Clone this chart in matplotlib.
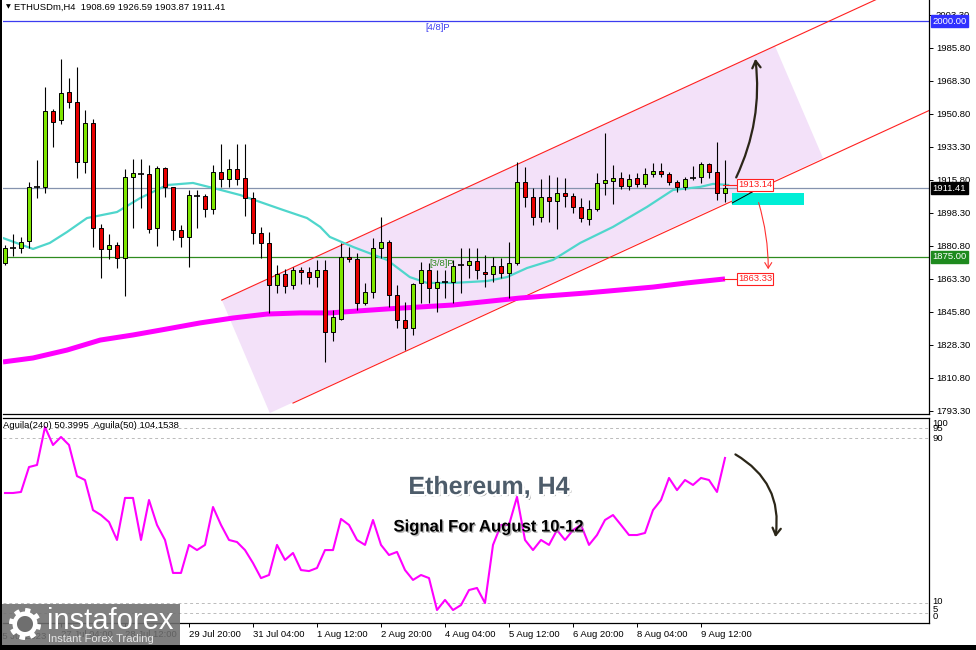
import numpy as np
import matplotlib
matplotlib.use("Agg")
import matplotlib.pyplot as plt
import matplotlib.patheffects as pe
from matplotlib.patches import Rectangle, Polygon, FancyArrowPatch
from matplotlib.transforms import blended_transform_factory

plt.rcParams['font.family'] = ['Liberation Sans', 'DejaVu Sans']

# ---- ETHUSDm H4 candles, 26 Jul -> 10 Aug 2023 ----
opens = [1871.8, 1879.7, 1879.7, 1883.4, 1912.1, 1912.1, 1952.4, 1947.6, 1962.4, 1957.1,
         1925.3, 1946.0, 1890.3, 1879.2, 1881.3, 1874.4, 1917.4, 1919.3, 1919.0, 1890.3,
         1922.1, 1912.1, 1889.3, 1885.6, 1907.5, 1907.3, 1900.4, 1920.0, 1916.3, 1921.6,
         1916.8, 1906.2, 1887.7, 1882.4, 1860.1, 1865.9, 1860.1, 1867.8, 1867.0, 1864.3,
         1868.1, 1835.2, 1842.1, 1875.0, 1873.9, 1850.6, 1856.4, 1879.7, 1882.9, 1854.8,
         1841.6, 1837.3, 1861.2, 1868.1, 1858.5, 1861.7, 1861.7, 1870.5, 1870.7, 1872.8,
         1867.0, 1865.9, 1870.2, 1866.5, 1871.8, 1914.7, 1906.8, 1896.2, 1906.8, 1904.6,
         1908.9, 1907.3, 1901.5, 1895.1, 1900.4, 1914.2, 1915.2, 1916.8, 1912.6, 1916.8,
         1913.7, 1919.0, 1920.6, 1919.0, 1914.7, 1912.1, 1916.5, 1917.4, 1924.3, 1920.0,
         1908.69]
highs = [1881.3, 1887.1, 1885.6, 1914.7, 1926.4, 1965.1, 1953.4, 1979.9, 1969.9, 1975.7,
         1952.9, 1948.1, 1892.5, 1887.1, 1882.9, 1921.6, 1926.9, 1926.9, 1923.7, 1923.2,
         1922.7, 1912.3, 1891.9, 1910.5, 1910.5, 1908.4, 1923.7, 1934.9, 1926.9, 1934.9,
         1934.9, 1909.4, 1890.9, 1888.2, 1870.7, 1868.6, 1869.7, 1869.7, 1869.7, 1873.4,
         1873.4, 1846.9, 1882.4, 1880.3, 1877.1, 1861.2, 1885.0, 1896.2, 1884.0, 1860.1,
         1851.1, 1861.2, 1872.3, 1871.8, 1868.1, 1868.1, 1873.4, 1879.7, 1879.7, 1879.7,
         1876.0, 1875.0, 1874.4, 1882.9, 1925.3, 1922.7, 1911.5, 1916.3, 1918.4, 1917.4,
         1916.8, 1908.9, 1906.2, 1905.2, 1919.5, 1940.7, 1923.7, 1920.0, 1919.0, 1919.5,
         1922.1, 1924.8, 1924.8, 1920.0, 1915.8, 1917.4, 1923.2, 1925.3, 1924.8, 1935.9,
         1926.59]
lows = [1870.7, 1875.5, 1877.1, 1879.7, 1906.2, 1908.9, 1933.3, 1945.5, 1954.0, 1916.8,
        1919.5, 1880.3, 1863.8, 1873.9, 1869.1, 1854.3, 1890.3, 1901.0, 1887.7, 1880.8,
        1906.8, 1884.0, 1880.3, 1869.7, 1890.3, 1896.2, 1897.8, 1912.1, 1912.1, 1913.1,
        1896.7, 1881.8, 1874.4, 1845.3, 1855.9, 1855.9, 1858.0, 1860.6, 1860.6, 1859.0,
        1819.3, 1830.4, 1841.6, 1872.3, 1846.9, 1849.5, 1853.2, 1874.4, 1848.4, 1837.3,
        1825.6, 1833.6, 1850.6, 1850.6, 1845.8, 1853.2, 1850.6, 1855.9, 1863.8, 1863.3,
        1859.0, 1861.7, 1863.8, 1853.2, 1870.7, 1901.5, 1891.9, 1893.5, 1893.5, 1889.8,
        1901.5, 1898.3, 1893.5, 1891.9, 1899.3, 1907.8, 1903.0, 1911.0, 1910.5, 1912.1,
        1912.1, 1917.4, 1917.4, 1913.1, 1909.4, 1910.5, 1915.8, 1914.2, 1916.8, 1905.2,
        1903.87]
closes = [1879.7, 1879.9, 1882.9, 1912.1, 1912.3, 1952.4, 1946.5, 1961.9, 1957.1, 1925.3,
          1946.0, 1890.3, 1879.2, 1881.3, 1874.4, 1917.4, 1919.5, 1919.0, 1889.8, 1922.1,
          1912.1, 1889.3, 1885.6, 1907.8, 1907.3, 1900.4, 1920.0, 1916.3, 1921.6, 1916.3,
          1906.2, 1887.7, 1882.4, 1860.1, 1865.9, 1859.6, 1868.1, 1867.0, 1864.3, 1868.1,
          1835.2, 1843.1, 1875.0, 1873.9, 1850.6, 1856.4, 1879.7, 1882.9, 1854.8, 1841.6,
          1837.3, 1860.6, 1868.1, 1858.5, 1861.7, 1861.9, 1870.2, 1870.7, 1872.8, 1868.1,
          1865.9, 1870.2, 1866.5, 1871.8, 1914.7, 1906.8, 1896.2, 1906.8, 1904.6, 1908.9,
          1907.3, 1901.5, 1895.6, 1900.4, 1914.2, 1915.8, 1916.8, 1912.6, 1916.3, 1913.7,
          1919.0, 1920.6, 1919.0, 1914.7, 1912.1, 1916.3, 1916.8, 1924.3, 1920.0, 1908.9,
          1911.41]

# moving averages (bar position, price)
ma_fast_x = [-0.25, 3.5, 5.6, 7.75, 10.25, 14, 16.9, 20.25, 23.5, 26.5, 29.4, 31.9, 34.75,
             37.75, 39.4, 40.6, 43.5, 47.75, 50.6, 52.75, 56, 60.25, 62.75, 65.25, 68.5,
             71.9, 76, 80.25, 83.5, 86.9, 88.5, 90.4]
ma_fast = [1885.0, 1879.2, 1882.4, 1888.2, 1895.6, 1898.8, 1906.2, 1913.1, 1914.2, 1911.0,
           1907.8, 1904.1, 1899.9, 1895.6, 1890.9, 1885.6, 1880.3, 1873.4, 1864.3, 1861.2,
           1861.2, 1862.2, 1864.3, 1869.1, 1873.4, 1882.4, 1890.9, 1901.5, 1910.5, 1912.1,
           1913.7, 1913.14]
ma_slow_x = [-0.25, 3.5, 7.75, 11.9, 16, 20.25, 24.4, 28.5, 32.75, 36.9, 40.6, 47.75, 56,
             64.4, 72.75, 81, 85.25, 90]
ma_slow = [1819.3, 1821.4, 1825.6, 1830.9, 1833.6, 1836.8, 1840.0, 1842.6, 1844.7, 1845.3,
           1845.3, 1847.4, 1849.5, 1853.2, 1855.9, 1859.0, 1861.2, 1863.33]

# Aguila oscillator, one value per bar
aguila = [63.4, 63.4, 63.9, 76.0, 77.0, 95.4, 86.7, 90.6, 86.7, 71.6,
          69.7, 55.1, 52.7, 49.3, 40.6, 61.0, 61.0, 40.6, 60.0, 47.9,
          40.6, 24.6, 24.6, 38.2, 35.7, 38.2, 56.6, 47.9, 40.6, 39.6,
          35.7, 29.4, 22.1, 23.6, 38.2, 30.9, 34.3, 26.0, 25.5, 27.0,
          35.7, 35.7, 50.8, 47.9, 40.6, 38.2, 50.3, 38.2, 33.3, 34.8,
          26.0, 21.2, 23.6, 22.1, 6.6, 11.5, 6.6, 9.0, 16.3, 17.3,
          10.0, 38.2, 47.9, 47.9, 61.5, 40.6, 35.7, 40.6, 38.2, 45.4,
          40.6, 45.4, 47.9, 38.2, 43.0, 50.3, 52.7, 47.9, 43.0, 43.0,
          44.0, 55.1, 60.0, 70.7, 64.8, 69.7, 67.3, 70.7, 69.7, 63.9,
          80.4]
aguila_levels = [95, 90, 10, 5]

price_ticks = [2003.30, 1985.80, 1968.30, 1950.80, 1933.30, 1915.80, 1898.30,
               1880.80, 1863.30, 1845.80, 1828.30, 1810.80, 1793.30]
time_ticks = [7, 15, 23, 31, 39, 47, 55, 63, 71, 79, 87]
time_labels = ["27 Jul 04:00", "28 Jul 12:00", "29 Jul 20:00", "31 Jul 04:00",
               "1 Aug 12:00", "2 Aug 20:00", "4 Aug 04:00", "5 Aug 12:00",
               "6 Aug 20:00", "8 Aug 04:00", "9 Aug 12:00"]

level_2000 = 2000.00
level_1875 = 1875.00
last_price = 1911.41
fast_last = 1913.14
slow_last = 1863.33

# channel drawn on the chart: (bar, price) anchors
chan_up = [(27.1, 1852.1), (100.6, 1995.3)]
chan_dn = [(36.0, 1797.5), (115.5, 1952.6)]
chan_fill = [(27.1, 1852.1), (96.25, 1986.8), (102.25, 1927.4), (33.1, 1792.2)]

# ---- figure ----
W, H = 976.0, 650.0
fig = plt.figure(figsize=(9.76, 6.5), dpi=100)


def px_rect(x0, y0, x1, y1):
    return [x0 / W, 1 - y1 / H, (x1 - x0) / W, (y1 - y0) / H]


ax = fig.add_axes(px_rect(3, 0, 929, 414))
axi = fig.add_axes(px_rect(3, 418, 929, 623))
XL = (-0.25, 115.5)
FS = 6.8

# main window
ax.set_xlim(*XL)
ax.set_ylim(1791.7, 2011.21)
ax.add_patch(Polygon(chan_fill, closed=True, fc='#F3E1F9', ec='none', zorder=0.5))

ax.axhline(level_2000, color='#3C3CF0', lw=0.9, zorder=1)
ax.axhline(level_1875, color='#2E8B1E', lw=0.9, zorder=1)
ax.axhline(last_price, color='#8593AE', lw=0.9, zorder=1)
ax.text(52.5, 1996.6, "[4/8]P", color='#3C3CF0', fontsize=FS, va='center', ha='left')
ax.text(53.1, 1871.3, "[3/8]P", color='#2E8B1E', fontsize=FS, va='center', ha='left')

for (x0, y0), (x1, y1) in [chan_up, chan_dn]:
    slope = (y1 - y0) / (x1 - x0)
    ax.plot([x0, XL[1]], [y0, y0 + slope * (XL[1] - x0)], color='#FF2020', lw=0.8, zorder=1.5)

ax.plot(ma_slow_x, ma_slow, color='#FF00FF', lw=3.6, solid_capstyle='butt', zorder=2)
ax.plot(ma_fast_x, ma_fast, color='#4FD6CC', lw=1.6, zorder=2)

o = np.array(opens); h = np.array(highs); l = np.array(lows); c = np.array(closes)
idx = np.arange(len(o))
body = np.abs(c - o)
doji = body < 0.6
up = c >= o
ax.vlines(idx, l, h, color='black', lw=0.8, zorder=4)
m = up & ~doji
ax.bar(idx[m], body[m], bottom=o[m], width=0.62, color='#7FE600', edgecolor='black', lw=0.7, zorder=5)
m = ~up & ~doji
ax.bar(idx[m], body[m], bottom=c[m], width=0.62, color='#E80000', edgecolor='black', lw=0.7, zorder=5)
ax.hlines(c[doji], idx[doji] - 0.33, idx[doji] + 0.33, color='black', lw=1.2, zorder=5)

# annotations
ax.add_patch(Rectangle((90.9, 1902.5), 9.0, 6.4, fc='#00EED6', ec='none', zorder=3))
ax.plot([90.9, 93.4], [1903.6, 1909.4], color='black', lw=0.7, zorder=3)
for val in (fast_last, slow_last):
    ax.plot([89.8, 91.5], [val, val], color='#FF2020', lw=0.8, zorder=6)
    ax.text(91.6, val, f"{val:.2f}", color='#FF2020', fontsize=FS, ha='left', va='center', zorder=7,
            bbox=dict(boxstyle='square,pad=0.12', fc='white', ec='#FF2020', lw=0.8))
ax.add_patch(FancyArrowPatch((91.25, 1915.8), (93.75, 1981.5), connectionstyle='arc3,rad=0.15',
                             arrowstyle='->,head_length=5,head_width=3', color='#2B2618', lw=1.6, zorder=8))
ax.add_patch(FancyArrowPatch((94.1, 1905.2), (95.4, 1867.0), connectionstyle='arc3,rad=-0.08',
                             arrowstyle='->,head_length=4,head_width=2.5', color='#FF3030', lw=0.8, zorder=8))

ax.yaxis.tick_right()
ax.set_yticks(price_ticks)
ax.set_yticklabels([f"{v:.2f}" for v in price_ticks])
ax.tick_params(axis='y', length=3, width=0.7, pad=2, labelsize=FS)
ax.set_xticks([])
for s in ('left', 'top'):
    ax.spines[s].set_visible(False)
ax.spines['right'].set_linewidth(0.9)
ax.spines['bottom'].set_linewidth(0.9)

tr = blended_transform_factory(ax.transAxes, ax.transData)
for val, fc in ((level_2000, '#3030FF'), (last_price, 'black'), (level_1875, '#1E8A1E')):
    ax.text(1.004, val, f"{val:.2f}", transform=tr, color='white', fontsize=FS, ha='left', va='center',
            clip_on=False, zorder=10, bbox=dict(boxstyle='square,pad=0.15', fc=fc, ec=fc))

ax.text(0.003, 1 - 7 / 414, "\u25bc", transform=ax.transAxes, fontsize=4.5, va='center', ha='left',
        family='DejaVu Sans')
ax.text(0.012, 1 - 7 / 414, "ETHUSDm,H4  1908.69 1926.59 1903.87 1911.41", transform=ax.transAxes,
        fontsize=FS, va='center', ha='left')

# indicator window
axi.set_xlim(*XL)
axi.set_ylim(0.3, 99.8)
for lv in aguila_levels:
    axi.axhline(lv, color='#BBBBBB', lw=0.7, dashes=(3, 3), zorder=1)
axi.plot(np.arange(len(aguila)), aguila, color='#FF00FF', lw=1.5, zorder=3)
axi.text(0.0, 1 - 7 / 205, "Aguila(240) 50.3995  Aguila(50) 104.1538", transform=axi.transAxes,
         fontsize=FS, va='center', ha='left', zorder=4)
tri = blended_transform_factory(axi.transAxes, axi.transData)
for val, txt in ((97.3, "100"), (94.5, "95"), (90, "90"), (10.5, "10"), (6.8, "5"), (3.6, "0")):
    axi.text(1.004, val, txt, transform=tri, fontsize=FS, ha='left', va='center', clip_on=False)
axi.set_yticks([])
axi.set_xticks(time_ticks)
axi.set_xticklabels(time_labels, ha='left')
axi.tick_params(axis='x', length=3, width=0.7, pad=2, labelsize=FS)
axi.text(-1, -4, "25 Jul 2023", fontsize=FS, ha='left', va='top', clip_on=False)
axi.spines['left'].set_visible(False)
for s in ('right', 'top', 'bottom'):
    axi.spines[s].set_linewidth(0.9)
axi.add_patch(FancyArrowPatch((91.0, 82.8), (96.25, 40.6), connectionstyle='arc3,rad=-0.35',
                              arrowstyle='->,head_length=5,head_width=3', color='#2B2618', lw=1.6, zorder=8))

# titles
fig.text(489 / W, 1 - 487 / H, "Ethereum, H4", fontsize=18, fontweight='bold', color='#4D5C6A',
         ha='center', va='center', zorder=20,
         path_effects=[pe.SimplePatchShadow(offset=(1.5, -1.5), shadow_rgbFace='#555555', alpha=0.5),
                       pe.Stroke(linewidth=3, foreground='white'), pe.Normal()])
fig.text(488 / W, 1 - 527 / H, "Signal For August 10-12", fontsize=12, fontweight='bold', color='black',
         ha='center', va='center', zorder=20,
         path_effects=[pe.SimplePatchShadow(offset=(1, -1), shadow_rgbFace='#888888', alpha=0.6),
                       pe.Normal()])

# logo
lax = fig.add_axes(px_rect(0, 604, 180, 645))
lax.set_zorder(20)
lax.set_xlim(0, 180)
lax.set_ylim(41, 0)
lax.axis('off')
lax.add_patch(Rectangle((0, 0), 180, 41, fc='#6F6F6F', ec='none', alpha=0.88))
th = np.linspace(0, 2 * np.pi, 200)
rr = np.where(np.sin(8 * th) > 0, 16, 12.5)
lax.add_patch(Polygon(np.c_[25 + rr * np.cos(th), 20 + rr * np.sin(th)], fc='white', ec='none'))
lax.add_patch(Polygon(np.c_[25 + 8 * np.cos(th), 20 + 8 * np.sin(th)], fc='#6F6F6F', ec='none'))
lax.text(47, 17, "instaforex", color='white', fontsize=21, va='center', ha='left')
lax.text(48, 35, "Instant Forex Trading", color='#E6E6E6', fontsize=8, va='center', ha='left')

# frame
fig.patches.append(Rectangle((0, 0), 2 / W, 1, transform=fig.transFigure, fc='black', ec='none', zorder=30))
fig.patches.append(Rectangle((0, 0), 1, 5 / H, transform=fig.transFigure, fc='black', ec='none', zorder=30))

fig.savefig("out.png", dpi=100, facecolor='white')
